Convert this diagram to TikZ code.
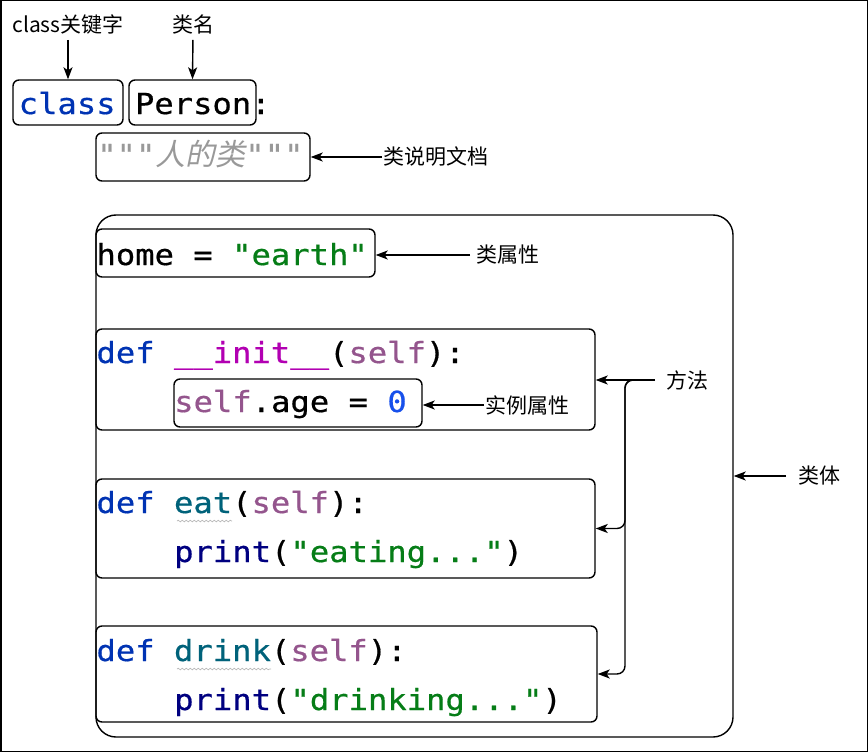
\documentclass[tikz,border=0pt]{standalone}
\usepackage{fontspec}
\setmainfont{Noto Sans CJK SC}
\newfontfamily\codefont[FakeStretch=1.11,FakeBold=0.6]{DejaVu Sans Mono}
\newfontfamily\cjkslant[FakeSlant=0.2]{Noto Sans CJK SC}
\usepackage{xcolor}
\usepackage{tikz}
\usetikzlibrary{arrows.meta,decorations.pathmorphing}

\definecolor{kwblue}{HTML}{0033B3}
\definecolor{strgreen}{HTML}{067D17}
\definecolor{magicpink}{HTML}{B200B2}
\definecolor{selfpurple}{HTML}{94558D}
\definecolor{fnteal}{HTML}{00627A}
\definecolor{printnavy}{HTML}{000080}
\definecolor{numblue}{HTML}{1750EB}
\definecolor{docgrey}{HTML}{999999}

\tikzset{
  codebox/.style={draw, line width=1.4pt, rounded corners=6pt, inner sep=0pt},
  codeline/.style={anchor=base west, inner sep=0pt, font=\codefont\fontsize{29}{34}\selectfont},
  tag/.style={font=\fontsize{21}{25}\selectfont, inner sep=1pt},
  pointer/.style={-{Stealth[length=12pt,width=9pt,inset=3pt]}, line width=1.4pt},
  typo/.style={draw=gray!55, line width=0.7pt, decorate, decoration={snake, amplitude=0.8pt, segment length=4pt}},
}

\begin{document}
\begin{tikzpicture}[x=1pt,y=-1pt]
\useasboundingbox (0,0) rectangle (868,752);

% Frame
\draw[line width=1.5pt] (0.75,0.75) rectangle (867.25,751.25);

% Boxes
\node[codebox, minimum width=110pt, minimum height=45pt] (kwbox) at (68,102.5) {};
\node[codebox, minimum width=127pt, minimum height=45pt] (namebox) at (192.5,102.5) {};
\node[codebox, minimum width=214pt, minimum height=48pt] (docbox) at (203,157) {};
\node[codebox, rounded corners=20pt, minimum width=637pt, minimum height=522pt] (bodybox) at (414.5,476) {};
\node[codebox, minimum width=279pt, minimum height=48pt] (homebox) at (235.5,253) {};
\node[codebox, minimum width=499pt, minimum height=101pt] (initbox) at (345.5,379.5) {};
\node[codebox, minimum width=248pt, minimum height=48pt] (agebox) at (298,403) {};
\node[codebox, minimum width=499pt, minimum height=99pt] (eatbox) at (345.5,528.5) {};
\node[codebox, minimum width=501pt, minimum height=96pt] (drinkbox) at (346.5,674) {};

% Code
\node[codeline] (classline) at (18.5,114) {{\color{kwblue}class} Person:};
\node[codeline] (docline) at (97,165) {\itshape\color{docgrey}"""{\cjkslant\fontsize{30}{34}\selectfont 人的类}"""};
\node[codeline] (homeline) at (96.3,265) {home = {\color{strgreen}"earth"}};
\node[codeline] (initline) at (96.3,363) {{\color{kwblue}def} {\color{magicpink}\_\_init\_\_}({\color{selfpurple}self}):};
\node[codeline] (ageline) at (174,412) {{\color{selfpurple}self}.age = {\color{numblue}0}};
\node[codeline] (eatline) at (96.3,513) {{\color{kwblue}def} {\color{fnteal}eat}({\color{selfpurple}self}):};
\node[codeline] (eatbody) at (174,562) {{\color{printnavy}print}({\color{strgreen}"eating..."})};
\node[codeline] (drinkline) at (96.3,661) {{\color{kwblue}def} {\color{fnteal}drink}({\color{selfpurple}self}):};
\node[codeline] (drinkbody) at (174,710) {{\color{printnavy}print}({\color{strgreen}"drinking..."})};

% Typo marks
\draw[typo] (177,521) -- (232,521);
\draw[typo] (177,669) -- (271,669);

% Labels
\node[tag] (kwlabel) at (68,24) {class关键字};
\node[tag] (namelabel) at (193,24) {类名};
\node[tag, anchor=west] (doclabel) at (382,157) {类说明文档};
\node[tag, anchor=west] (homelabel) at (475,255) {类属性};
\node[tag, anchor=west] (agelabel) at (484,405) {实例属性};
\node[tag, anchor=west] (methodlabel) at (665,380) {方法};
\node[tag, anchor=west] (bodylabel) at (797,476) {类体};

% Pointers
\draw[pointer, shorten <=5pt] (kwlabel.south) -- (kwbox.north);
\draw[pointer, shorten <=5pt] (namelabel.south) -- (namebox.north);
\draw[pointer] (doclabel.west) -- (docbox.east |- doclabel.west);
\draw[pointer] ([xshift=-5pt]homelabel.west) -- (homebox.east |- homelabel.west);
\draw[pointer] (agelabel.west) -- (agebox.east |- agelabel.west);
\draw[pointer] ([xshift=-10pt]methodlabel.west) -- (initbox.east |- methodlabel.west);
\coordinate (split) at (641,380);
\coordinate (bus) at (625,380);
\draw[pointer, rounded corners=8pt] (split) -| (bus |- eatbox.east) -- (eatbox.east);
\draw[pointer, rounded corners=8pt] (split) -| (bus |- drinkbox.east) -- (drinkbox.east);
\draw[pointer] ([xshift=-11pt]bodylabel.west) -- (bodybox.east |- bodylabel.west);

\end{tikzpicture}
\end{document}
